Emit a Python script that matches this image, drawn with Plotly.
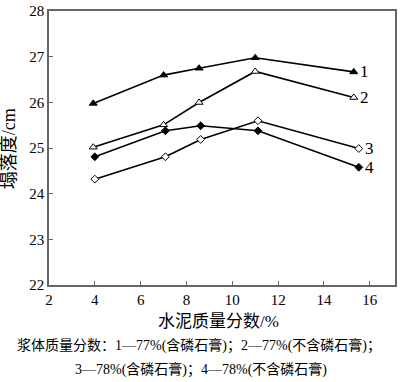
import plotly.graph_objects as go

x_tri = [3.93, 7.0, 8.55, 11.0, 15.3]
x_dia = [4.0, 7.08, 8.62, 11.12, 15.52]
s1 = [25.98, 26.6, 26.75, 26.98, 26.67]
s2 = [25.02, 25.51, 26.0, 26.68, 26.11]
s3 = [24.32, 24.81, 25.19, 25.6, 24.99]
s4 = [24.81, 25.38, 25.49, 25.38, 24.58]
labels = ["1", "2", "3", "4"]
x_ticks = [2, 4, 6, 8, 10, 12, 14, 16]
y_ticks = [22, 23, 24, 25, 26, 27, 28]

SERIF = "Times New Roman, Liberation Serif, Noto Sans CJK SC, serif"

fig = go.Figure()
series = [
    (x_tri, s1, "triangle-up", "black", 7),
    (x_tri, s2, "triangle-up", "white", 7),
    (x_dia, s3, "diamond", "white", 6),
    (x_dia, s4, "diamond", "black", 6),
]
for (xs, ys, sym, fill, sz), lab in zip(series, labels):
    fig.add_trace(go.Scatter(
        x=xs, y=ys, mode="lines+markers", name=lab,
        line=dict(color="black", width=1.6),
        marker=dict(symbol=sym, size=sz, color=fill, line=dict(color="black", width=1)),
        showlegend=False, hoverinfo="skip",
    ))
    fig.add_annotation(x=xs[-1], y=ys[-1], xref="x", yref="y", text=lab,
                       showarrow=False, xanchor="center", yanchor="middle",
                       xshift=11, font=dict(family=SERIF, size=17, color="black"))

fig.add_annotation(x=0.489, y=-0.132, xref="paper", yref="paper", text="水泥质量分数/%",
                   showarrow=False, xanchor="center", yanchor="middle",
                   font=dict(family=SERIF, size=17, color="black"))
fig.add_annotation(x=0.434, y=-0.221, xref="paper", yref="paper",
                   text="浆体质量分数：1—77%(含磷石膏)；2—77%(不含磷石膏)；",
                   showarrow=False, xanchor="center", yanchor="middle",
                   font=dict(family=SERIF, size=14, color="black"))
fig.add_annotation(x=0.440, y=-0.307, xref="paper", yref="paper",
                   text="3—78%(含磷石膏)；4—78%(不含磷石膏)",
                   showarrow=False, xanchor="center", yanchor="middle",
                   font=dict(family=SERIF, size=14, color="black"))
fig.add_annotation(x=-0.115, y=0.496, xref="paper", yref="paper", text="塌落度/cm",
                   showarrow=False, xanchor="center", yanchor="middle", textangle=-90,
                   font=dict(family=SERIF, size=18, color="black"))

axis_common = dict(showline=True, mirror=True, linecolor="#666666", linewidth=1.5,
                   ticks="inside", ticklen=4, tickcolor="#666666", tickwidth=1.2,
                   showgrid=False, zeroline=False, ticklabeloverflow="allow",
                   tickfont=dict(family=SERIF, size=15, color="black"))
fig.update_xaxes(range=[2, 17.1], tickvals=x_ticks, ticktext=[str(v) for v in x_ticks],
                 **axis_common)
fig.update_yaxes(range=[22, 28.005], tickvals=y_ticks, ticktext=[str(v) for v in y_ticks],
                 **axis_common)
fig.update_layout(width=400, height=382, margin=dict(l=49, r=3, t=5, b=97),
                  plot_bgcolor="white", paper_bgcolor="white", hovermode=False)
fig.write_html("out.html", config={"displayModeBar": False},
               post_script="document.body.style.margin='0';document.body.style.overflow='hidden';")
